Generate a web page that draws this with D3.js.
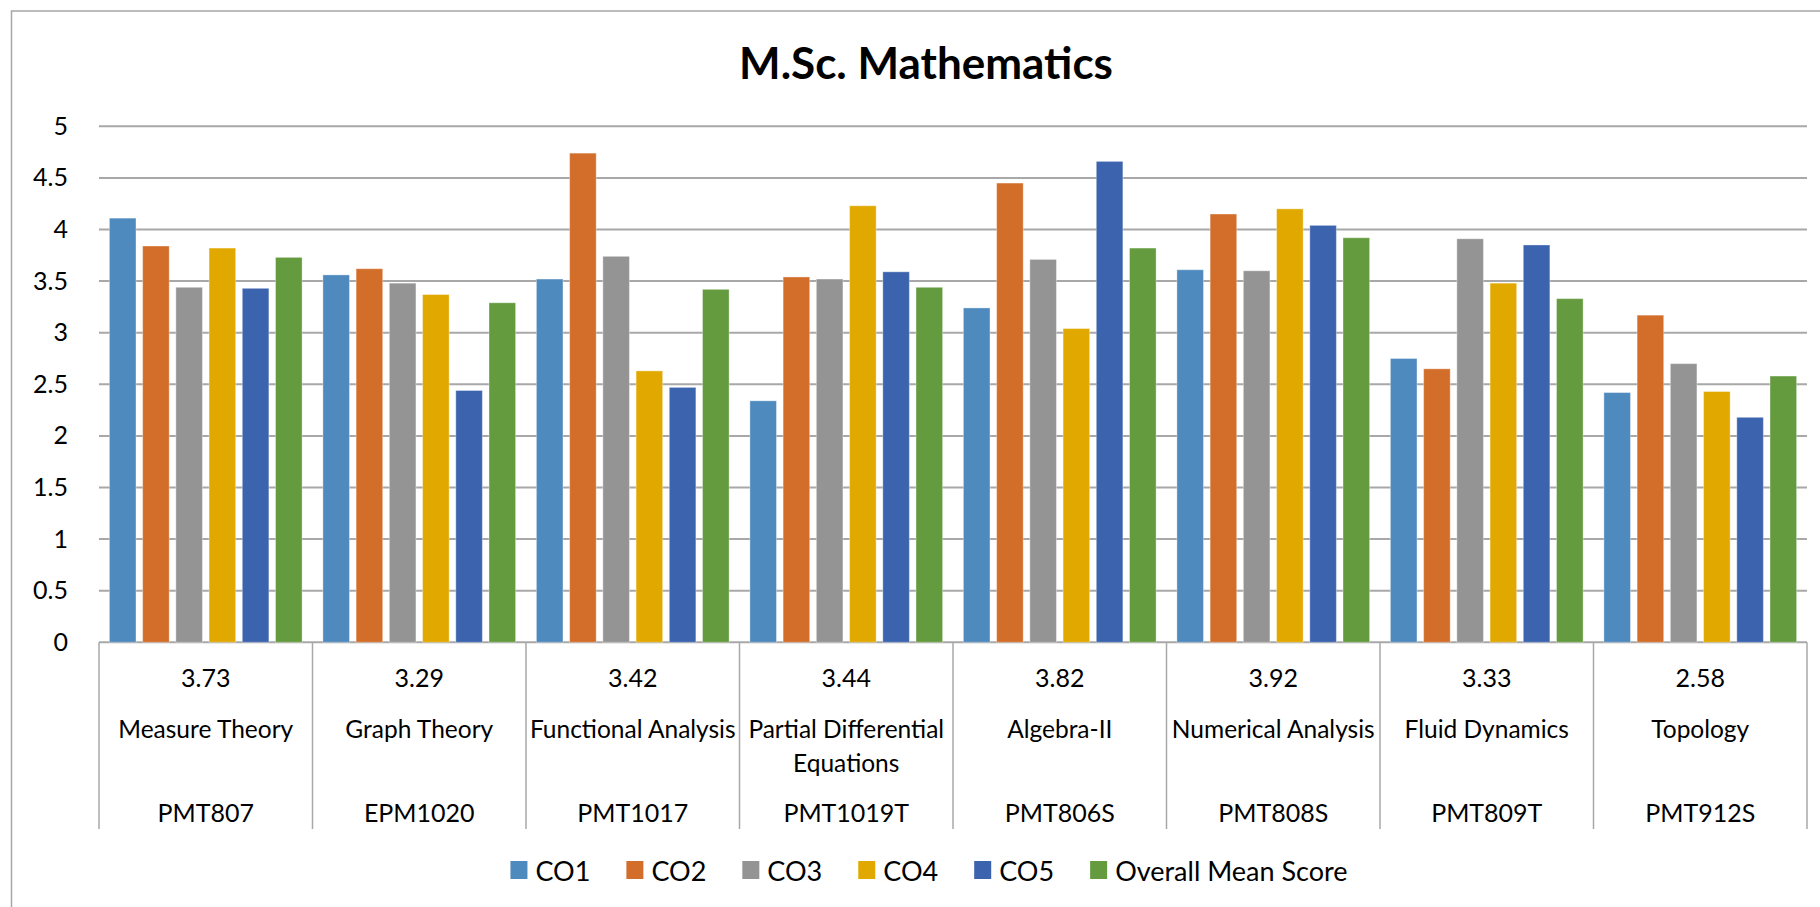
<!DOCTYPE html>
<html>
<head>
<meta charset="utf-8">
<script src="https://cdn.jsdelivr.net/npm/d3@7"></script>
<style>
  body { margin: 0; background: #fff; }
  svg { display: block; }
  text { font-family: Lato, 'Open Sans', sans-serif; fill: #000; }
</style>
</head>
<body>
<div id="chart"></div>
<script>
// data
var courses = ['Measure Theory', 'Graph Theory', 'Functional Analysis', 'Partial Differential Equations',
               'Algebra-II', 'Numerical Analysis', 'Fluid Dynamics', 'Topology'];
var codes = ['PMT807', 'EPM1020', 'PMT1017', 'PMT1019T', 'PMT806S', 'PMT808S', 'PMT809T', 'PMT912S'];
var meanLabels = ['3.73', '3.29', '3.42', '3.44', '3.82', '3.92', '3.33', '2.58'];
var seriesNames = ['CO1', 'CO2', 'CO3', 'CO4', 'CO5', 'Overall Mean Score'];

var co1 = [4.11, 3.56, 3.52, 2.34, 3.24, 3.61, 2.75, 2.42];
var co2 = [3.84, 3.62, 4.74, 3.54, 4.45, 4.15, 2.65, 3.17];
var co3 = [3.44, 3.48, 3.74, 3.52, 3.71, 3.60, 3.91, 2.70];
var co4 = [3.82, 3.37, 2.63, 4.23, 3.04, 4.20, 3.48, 2.43];
var co5 = [3.43, 2.44, 2.47, 3.59, 4.66, 4.04, 3.85, 2.18];
var overall = [3.73, 3.29, 3.42, 3.44, 3.82, 3.92, 3.33, 2.58];
var yTicks = [0, 0.5, 1, 1.5, 2, 2.5, 3, 3.5, 4, 4.5, 5];

var colors = ['#4f8abe', '#d26e2a', '#949494', '#e1a900', '#3c64ae', '#639b3e'];

var width = 1820, height = 907;
var plotLeft = 99, plotRight = 1807, plotTop = 126.3, plotBottom = 642.3;
var centerX = 926;
var gridColor = '#a8a8a8';

var values = [co1, co2, co3, co4, co5, overall];

function render() {
    var svg = d3.select('#chart').append('svg')
        .attr('width', width)
        .attr('height', height);

    // outer chart frame (only top and left edges fall inside the picture)
    svg.append('rect')
        .attr('x', 11.5).attr('y', 11)
        .attr('width', width + 40).attr('height', height + 40)
        .style('fill', '#fff')
        .style('stroke', '#a6a6a6')
        .style('stroke-width', 1.5);

    svg.append('text')
        .attr('x', centerX).attr('y', 62)
        .attr('dominant-baseline', 'central')
        .style('text-anchor', 'middle')
        .style('font-size', '44px')
        .style('font-weight', 'bold')
        .text('M.Sc. Mathematics');

    var y = d3.scaleLinear().domain([0, 5]).range([plotBottom, plotTop]);
    var x0 = d3.scaleBand().domain(courses).range([plotLeft, plotRight]).padding(0);
    var x1 = d3.scaleBand().domain(seriesNames)
        .range([10.4, x0.bandwidth() - 10.4])
        .paddingInner(0.2).paddingOuter(0);

    // gridlines
    svg.append('g').selectAll('line')
        .data(yTicks)
        .enter().append('line')
        .attr('x1', plotLeft).attr('x2', plotRight)
        .attr('y1', function(d) { return y(d); })
        .attr('y2', function(d) { return y(d); })
        .style('stroke', gridColor)
        .style('stroke-width', 2);

    // y axis labels
    var yAxis = d3.axisLeft(y).tickValues(yTicks).tickSize(0).tickPadding(0)
        .tickFormat(function(d) { return String(d); });
    var yg = svg.append('g')
        .attr('transform', 'translate(68,0)')
        .call(yAxis);
    yg.select('.domain').remove();
    yg.selectAll('text')
        .style('font-family', 'Lato, sans-serif')
        .style('font-size', '25px')
        .style('fill', '#000');

    // bars
    var groups = svg.append('g').selectAll('g')
        .data(courses)
        .enter().append('g')
        .attr('transform', function(d) { return 'translate(' + x0(d) + ',0)'; });

    groups.selectAll('rect')
        .data(function(d, i) {
            return seriesNames.map(function(s, j) { return { series: s, idx: j, value: values[j][i] }; });
        })
        .enter().append('rect')
        .attr('x', function(d) { return x1(d.series); })
        .attr('y', function(d) { return y(d.value); })
        .attr('width', x1.bandwidth())
        .attr('height', function(d) { return y(0) - y(d.value); })
        .style('fill', function(d) { return colors[d.idx]; })
        .style('stroke', 'rgba(255,255,255,0.35)')
        .style('stroke-width', 1);

    // category dividers under the axis
    var edges = courses.map(function(c) { return x0(c); }).concat([plotRight]);
    svg.append('g').selectAll('line')
        .data(edges)
        .enter().append('line')
        .attr('x1', function(d) { return d; })
        .attr('x2', function(d) { return d; })
        .attr('y1', plotBottom).attr('y2', 829)
        .style('stroke', gridColor)
        .style('stroke-width', 1.5);

    // multi level category labels
    var labels = svg.append('g').selectAll('g')
        .data(courses)
        .enter().append('g')
        .attr('transform', function(d) { return 'translate(' + (x0(d) + x0.bandwidth() / 2) + ',0)'; });

    labels.append('text')
        .attr('y', 677)
        .attr('dominant-baseline', 'central')
        .style('text-anchor', 'middle')
        .style('font-size', '25px')
        .text(function(d, i) { return meanLabels[i]; });

    labels.each(function(d, i) {
        var g = d3.select(this);
        var lines = d === 'Partial Differential Equations' ? ['Partial Differential', 'Equations'] : [d];
        lines.forEach(function(line, k) {
            g.append('text')
                .attr('y', 728 + k * 34)
                .attr('dominant-baseline', 'central')
                .style('text-anchor', 'middle')
                .style('font-size', '24.5px')
                .text(line);
        });
    });

    labels.append('text')
        .attr('y', 812)
        .attr('dominant-baseline', 'central')
        .style('text-anchor', 'middle')
        .style('font-size', '25px')
        .text(function(d, i) { return codes[i]; });

    makeLegend(svg);
}

function makeLegend(svg) {
    var legend = svg.append('g');
    var cursor = 0;
    var swatch = 17, gapText = 8, gapItem = 36;
    seriesNames.forEach(function(name, i) {
        var item = legend.append('g').attr('transform', 'translate(' + cursor + ',0)');
        item.append('rect')
            .attr('x', 0).attr('y', -9)
            .attr('width', swatch).attr('height', 18)
            .style('fill', colors[i]);
        var t = item.append('text')
            .attr('x', swatch + gapText).attr('y', 0)
            .attr('dominant-baseline', 'central')
            .style('font-size', '27px')
            .text(name);
        cursor += swatch + gapText + t.node().getComputedTextLength() + gapItem;
    });
    var total = cursor - gapItem;
    legend.attr('transform', 'translate(' + (centerX + 3 - total / 2) + ',870)');
}

render();
</script>
</body>
</html>
